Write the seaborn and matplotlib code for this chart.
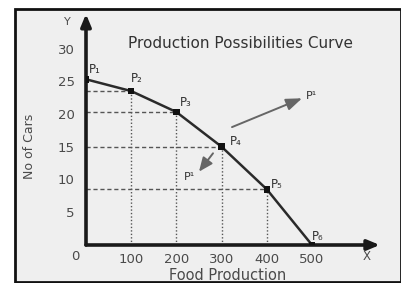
import matplotlib
matplotlib.use("Agg")
import matplotlib.pyplot as plt
import seaborn as sns
import pandas as pd
from matplotlib.patches import Rectangle

# ---- data ----
food = [0, 100, 200, 300, 400, 500]
cars = [25.3, 23.5, 20.3, 15, 8.5, 0]
point_labels = ["P₁", "P₂", "P₃", "P₄", "P₅", "P₆"]
xticks = [100, 200, 300, 400, 500]
yticks = [5, 10, 15, 20, 25, 30]

df = pd.DataFrame({"food": food, "cars": cars})

sns.set_theme(style="white")
plt.rcParams["font.family"] = ["DejaVu Sans"]

W, H = 402, 283
fig = plt.figure(figsize=(W / 100, H / 100), dpi=100)
fig.patch.set_facecolor("white")

# framed light-grey panel
fig.patches.append(Rectangle((15 / W, 1 / H), 386 / W, 273 / H, transform=fig.transFigure,
                             facecolor="#efefef", edgecolor="#111111", linewidth=2, zorder=-10))

x0px, xs = 86, 0.452
y0px, ys = 245, 6.55
xmax = 650
ymax = (y0px - 14) / ys
ax = fig.add_axes([x0px / W, (H - y0px) / H, xmax * xs / W, (y0px - 14) / H])
ax.set_facecolor("none")
ax.set_xlim(0, xmax)
ax.set_ylim(0, ymax)
for s in ax.spines.values():
    s.set_visible(False)

txt = "#4a4a4a"
# guide lines
for fx, cy in zip(food[1:5], cars[1:5]):
    ax.plot([0, fx], [cy, cy], linestyle=(0, (3, 2)), color="#555555", linewidth=1, zorder=1)
    ax.plot([fx, fx], [0, cy], linestyle=(0, (1, 1.5)), color="#555555", linewidth=1, zorder=1)

# curve and points
sns.lineplot(data=df, x="food", y="cars", ax=ax, color="#2a2a2a", linewidth=1.8, zorder=3)
sns.scatterplot(data=df, x="food", y="cars", ax=ax, color="#111111", marker="s", s=22,
                edgecolor="none", zorder=4)

offsets = [(3, 10), (0, 13), (3, 10), (8, 5), (4, 5), (0, 9)]
for fx, cy, lab, off in zip(food, cars, point_labels, offsets):
    ax.annotate(lab, (fx, cy), xytext=off, textcoords="offset pixels", ha="left", va="center",
                fontsize=8.5, color="#333333", annotation_clip=False)

# axes lines with arrows
ax.annotate("", xy=(0, ymax), xytext=(0, 0), annotation_clip=False,
            arrowprops=dict(arrowstyle="-|>,head_length=0.6,head_width=0.25", color="#1a1a1a",
                            linewidth=2.6, shrinkA=0, shrinkB=0))
ax.annotate("", xy=(xmax, 0), xytext=(0, 0), annotation_clip=False,
            arrowprops=dict(arrowstyle="-|>,head_length=0.6,head_width=0.25", color="#1a1a1a",
                            linewidth=2.6, shrinkA=0, shrinkB=0))

# ticks as labels
ax.set_xticks(xticks)
ax.set_xticklabels([str(v) for v in xticks])
ax.set_yticks(yticks)
ax.set_yticklabels([str(v) for v in yticks])
ax.tick_params(axis="x", length=0, pad=6, labelsize=9.5, labelcolor=txt)
ax.tick_params(axis="y", length=0, pad=8, labelsize=9.5, labelcolor=txt)
ax.set_xlabel("")
ax.set_ylabel("")

ax.text(-24, -1.8, "0", ha="center", va="center", fontsize=9.5, color=txt, clip_on=False)
ax.text(-42, 34.0, "Y", ha="center", va="center", fontsize=8, color=txt, clip_on=False)
ax.text(622, -1.7, "X", ha="center", va="center", fontsize=8.5, color=txt, clip_on=False)

ax.text(342, 30.7, "Production Possibilities Curve", ha="center", va="center",
        fontsize=11, color="#333333")
fig.text(228 / W, 1 - 275 / H, "Food Production", ha="center", va="center", fontsize=10.5, color=txt)
fig.text(30 / W, 1 - 146 / H, "No of Cars", ha="center", va="center", rotation=90,
         fontsize=9, color=txt)

# shift arrows
ax.annotate("", xy=(478, 22.4), xytext=(323, 18.0),
            arrowprops=dict(arrowstyle="-|>,head_length=0.8,head_width=0.3", color="#666666",
                            linewidth=1.4, shrinkA=0, shrinkB=0))
ax.text(500, 22.7, "P¹", ha="center", va="center", fontsize=8, color="#333333")
ax.annotate("", xy=(250, 11.2), xytext=(281, 14.0),
            arrowprops=dict(arrowstyle="-|>,head_length=0.7,head_width=0.3", color="#666666",
                            linewidth=1.4, shrinkA=0, shrinkB=0))
ax.text(230, 10.4, "P¹", ha="center", va="center", fontsize=8, color="#333333")

fig.savefig("out.png", dpi=100)
